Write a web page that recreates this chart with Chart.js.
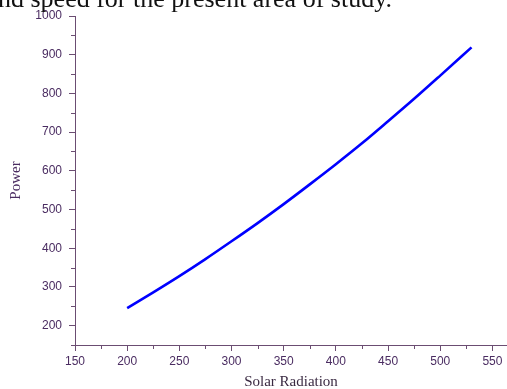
<!DOCTYPE html>
<html>
<head>
<meta charset="utf-8">
<script src="https://cdn.jsdelivr.net/npm/chart.js@4.4.1/dist/chart.umd.min.js"></script>
<style>
  html, body { margin: 0; padding: 0; background: #fff; overflow: hidden; }
  #wrap { position: relative; width: 507px; height: 389px; }
  #hdr { position: absolute; left: -2px; top: -14px; font-family: "Liberation Serif", serif; font-size: 26px; line-height: 26px; color: #111; white-space: nowrap; z-index: 2; }
  canvas { position: absolute; left: 0; top: 0; }
</style>
</head>
<body>
<div id="wrap">
  <div id="hdr">nd speed for the present area of study.</div>
  <canvas id="c" width="507" height="389"></canvas>
</div>
<script>
const solarRadiation = [200, 225, 250, 275, 300, 325, 350, 375, 400, 425, 450, 475, 500, 530];
const power = [245, 286, 328, 372, 418, 465, 514, 565, 617, 671, 728, 786, 846, 919];
const xTitle = 'Solar Radiation';
const yTitle = 'Power';

const axisColor = '#6b4d72';
const labelColor = '#4a2c61';

const minorTicks = {
  id: 'minorTicks',
  afterDraw(chart) {
    const ctx = chart.ctx;
    const xs = chart.scales.x, ys = chart.scales.y;
    ctx.save();
    ctx.strokeStyle = axisColor;
    ctx.lineWidth = 1;
    ctx.beginPath();
    xs.ticks.forEach(t => {
      if (t.value % 50 !== 0) {
        const px = Math.round(xs.getPixelForValue(t.value)) + 0.5;
        ctx.moveTo(px, xs.top); ctx.lineTo(px, xs.top + 4);
      }
    });
    ys.ticks.forEach(t => {
      if (t.value % 100 !== 0) {
        const py = Math.round(ys.getPixelForValue(t.value)) + 0.5;
        ctx.moveTo(ys.right, py); ctx.lineTo(ys.right - 4, py);
      }
    });
    ctx.stroke();
    ctx.restore();
  }
};

new Chart(document.getElementById('c'), {
  type: 'line',
  data: {
    datasets: [{
      data: solarRadiation.map((x, i) => ({x: x, y: power[i]})),
      borderColor: '#0000ff',
      borderWidth: 2.6,
      pointRadius: 0,
      fill: false,
      cubicInterpolationMode: 'monotone'
    }]
  },
  options: {
    responsive: false,
    animation: false,
    devicePixelRatio: 1,
    layout: { padding: { top: 16, left: 0, right: 0, bottom: 0 } },
    plugins: { legend: { display: false }, tooltip: { enabled: false } },
    scales: {
      x: {
        type: 'linear',
        min: 150, max: 564,
        afterFit: s => { s.height = 44; },
        border: { display: true, color: axisColor, width: 1 },
        grid: {
          display: true, drawOnChartArea: false, drawTicks: true, tickLength: 6,
          tickColor: c => (c.tick && c.tick.value % 50 === 0) ? axisColor : 'rgba(0,0,0,0)'
        },
        ticks: {
          stepSize: 25, includeBounds: false, autoSkip: false, maxRotation: 0, padding: 3,
          color: labelColor,
          font: { family: '"Liberation Sans", Arial, sans-serif', size: 12 },
          callback: v => (v % 50 === 0 ? String(v) : '')
        },
        title: {
          display: true, text: xTitle, color: '#3a2a42',
          font: { family: '"Liberation Serif", serif', size: 15, lineHeight: 1 },
          padding: { top: 0, bottom: -1 }
        }
      },
      y: {
        type: 'linear',
        min: 150, max: 1000,
        afterFit: s => { s.width = 75; },
        border: { display: true, color: axisColor, width: 1 },
        grid: {
          display: true, drawOnChartArea: false, drawTicks: true, tickLength: 6,
          tickColor: c => (c.tick && c.tick.value % 100 === 0) ? axisColor : 'rgba(0,0,0,0)'
        },
        ticks: {
          stepSize: 50, autoSkip: false, padding: 7,
          color: labelColor,
          font: { family: '"Liberation Sans", Arial, sans-serif', size: 12 },
          callback: v => (v % 100 === 0 ? String(v) : '')
        },
        title: {
          display: true, text: yTitle, color: labelColor,
          font: { family: '"Liberation Serif", serif', size: 15, lineHeight: 1 },
          padding: { top: 9, bottom: 0 }
        }
      }
    }
  },
  plugins: [minorTicks]
});
</script>
</body>
</html>
